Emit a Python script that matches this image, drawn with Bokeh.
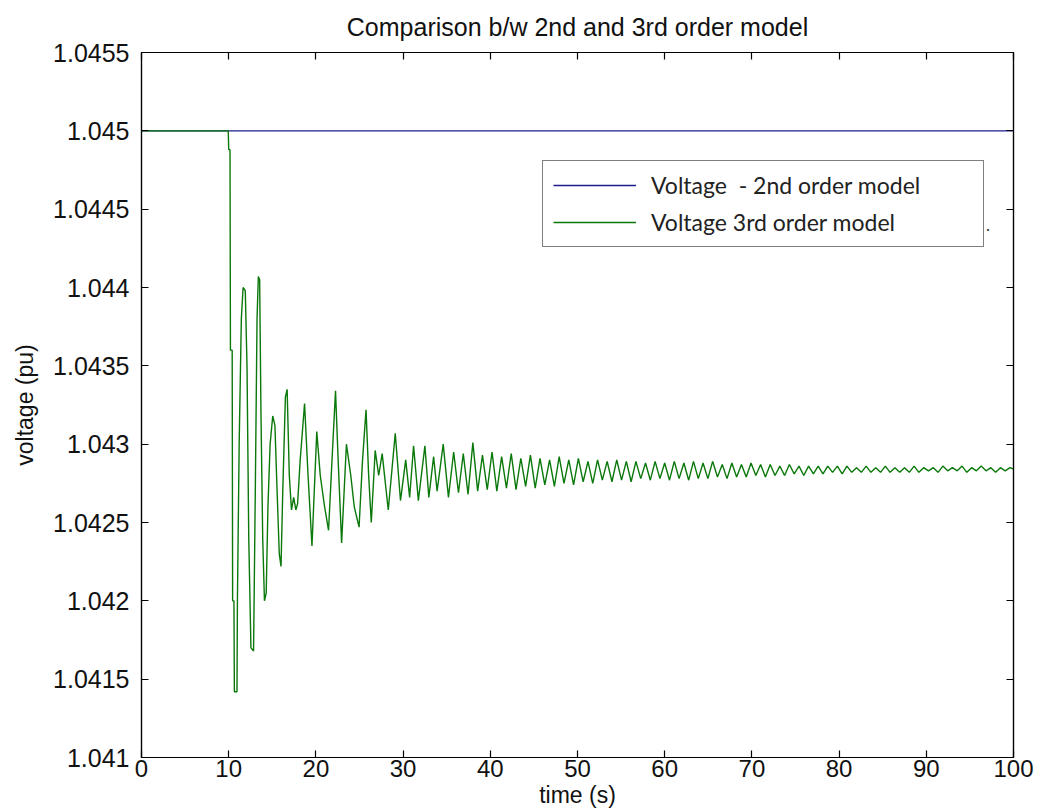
from bokeh.plotting import figure
from bokeh.models import (FixedTicker, PrintfTickFormatter, LinearAxis, Legend,
                          LegendItem, Range1d, Label)
from bokeh.embed import file_html
from bokeh.resources import INLINE

# ---------------- data ----------------
title_text = "Comparison b/w 2nd and 3rd order model"
x_label = "time (s)"
y_label = "voltage (pu)"
label_2nd = "Voltage  - 2nd order model"
label_3rd = "Voltage 3rd order model"

x_ticks = [0, 10, 20, 30, 40, 50, 60, 70, 80, 90, 100]
y_ticks = [1.041, 1.0415, 1.042, 1.0425, 1.043, 1.0435, 1.044, 1.0445, 1.045, 1.0455]

# 2nd order model: flat
t_2nd = [0, 100]
v_2nd = [1.045, 1.045]

# 3rd order model: points (turning points of the trace)
t_3rd = [0, 9.95, 10.0, 10.15, 10.2, 10.4, 10.45, 10.6, 10.65, 10.95,
         11.0, 11.2, 11.45, 11.65, 11.9, 12.1, 12.3, 12.55, 12.85, 13.05,
         13.25, 13.4, 13.55, 13.7, 13.9, 14.1, 14.3, 14.5, 14.75, 15.05,
         15.3, 15.55, 15.8, 16.0, 16.2, 16.5, 16.7, 16.95, 17.2, 17.45,
         17.7, 17.9, 18.2, 18.7, 19.1, 19.55, 20.1, 20.5, 21.0, 21.45,
         21.85, 22.25, 22.55, 22.95, 23.5, 24.0, 24.4, 24.95, 25.35, 25.75,
         26.05, 26.35, 26.8, 27.2, 27.6, 28.3, 29.1, 29.7, 30.3, 30.75,
         31.2, 31.75, 32.5, 32.95, 33.5, 33.9, 34.6, 35.2, 35.8,
         36.35, 36.9, 37.45, 38.0, 38.55, 39.1, 39.65, 40.2, 40.75, 41.3,
         41.85, 42.4, 42.95, 43.5, 44.05, 44.6, 45.15, 45.7, 46.25, 46.8,
         47.35, 47.9, 48.45, 49.0, 49.55, 50.1, 50.65, 51.2, 51.75, 52.3,
         52.85, 53.4, 53.95, 54.5, 55.05, 55.6, 56.15, 56.7, 57.25, 57.8,
         58.35, 58.9, 59.45, 60.0, 60.55, 61.1, 61.65, 62.2, 62.75, 63.3,
         63.85, 64.4, 64.95, 65.5, 66.05, 66.6, 67.15, 67.7, 68.25, 68.8,
         69.35, 69.9, 70.45, 71.0, 71.55, 72.1, 72.65, 73.2, 73.75, 74.3,
         74.85, 75.4, 75.95, 76.5, 77.05, 77.6, 78.15, 78.7, 79.25, 79.8,
         80.35, 80.9, 81.45, 82.0, 82.55, 83.1, 83.65, 84.2, 84.75, 85.3,
         85.85, 86.4, 86.95, 87.5, 88.05, 88.6, 89.15, 89.7, 90.25, 90.8,
         91.35, 91.9, 92.45, 93.0, 93.55, 94.1, 94.65, 95.2, 95.75, 96.3,
         96.85, 97.4, 97.95, 98.5, 99.05, 99.6, 100.0]
v_3rd = [1.045, 1.045, 1.04488, 1.04488, 1.0436, 1.0436, 1.0420, 1.0420, 1.04142, 1.04142,
         1.0420, 1.0430, 1.0438, 1.04400, 1.04398, 1.0435, 1.0424, 1.04170, 1.04168, 1.0427,
         1.0438, 1.04407, 1.04405, 1.0432, 1.0424, 1.04200, 1.04205, 1.0426, 1.0430, 1.04318,
         1.04312, 1.0427, 1.0423, 1.04222, 1.0427, 1.04330, 1.04335, 1.0428, 1.04258, 1.04266,
         1.04258, 1.04262, 1.0429, 1.04326, 1.0428, 1.04235, 1.04308, 1.0428, 1.0426, 1.04245,
         1.0429, 1.04334, 1.0429, 1.04237, 1.04300, 1.0428, 1.0426, 1.04247, 1.0429, 1.04322,
         1.0428, 1.04250, 1.04296, 1.0428, 1.04294, 1.04258, 1.04307, 1.04264, 1.0429, 1.04266,
         1.04299, 1.04264, 1.04299, 1.04266, 1.04292, 1.0427, 1.04300, 1.04266, 1.04295,
         1.04269, 1.04294, 1.04268, 1.04301, 1.04270, 1.04293, 1.04271, 1.04295, 1.04270, 1.04292,
         1.04272, 1.04294, 1.04271, 1.04291, 1.04273, 1.04293, 1.04272, 1.04291, 1.04274, 1.04290,
         1.04273, 1.04292, 1.04275, 1.04290, 1.04274, 1.04291, 1.04276, 1.04289, 1.04275, 1.04290,
         1.04277, 1.04289, 1.04276, 1.04290, 1.04277, 1.04289, 1.04276, 1.04289, 1.04278, 1.04288,
         1.04277, 1.04289, 1.04278, 1.04288, 1.04277, 1.04289, 1.04278, 1.04288, 1.04277, 1.04289,
         1.04278, 1.04288, 1.04278, 1.04289, 1.04279, 1.04287, 1.04278, 1.04288, 1.04279, 1.04287,
         1.04279, 1.04288, 1.04280, 1.04287, 1.04279, 1.04287, 1.04280, 1.04286, 1.04280, 1.04287,
         1.04281, 1.04286, 1.04280, 1.04286, 1.04281, 1.04286, 1.04281, 1.04286, 1.04282, 1.04286,
         1.04281, 1.04286, 1.04282, 1.04285, 1.04282, 1.04286, 1.04282, 1.04285, 1.04282, 1.04286,
         1.04282, 1.04285, 1.04282, 1.04285, 1.04282, 1.04286, 1.04282, 1.04285, 1.04283, 1.04285,
         1.04282, 1.04286, 1.04283, 1.04285, 1.04283, 1.04286, 1.04282, 1.04285, 1.04283, 1.04286,
         1.04283, 1.04285, 1.04282, 1.04285, 1.04283, 1.04285, 1.04284]

# ---------------- figure ----------------
FONT = "'Liberation Sans', Arial, sans-serif"

p = figure(width=1041, height=812, output_backend="svg", toolbar_location=None,
           x_range=Range1d(0, 100), y_range=Range1d(1.041, 1.0455),
           min_border_left=141, min_border_right=28, min_border_top=52,
           min_border_bottom=55, background_fill_color="white",
           border_fill_color="white")

p.title.text = title_text
p.title.align = "center"
p.title.vertical_align = "top"
p.title.text_font = FONT
p.title.text_font_size = "25px"
p.title.text_font_style = "normal"
p.title.text_color = "#111111"
p.title.standoff = 20

p.grid.visible = False
p.outline_line_color = "black"
p.outline_line_width = 1.2

def style_axis(ax, show_labels=True):
    ax.major_tick_in = 7
    ax.major_tick_out = 0
    ax.minor_tick_line_color = None
    ax.axis_line_color = "black"
    ax.axis_line_width = 1.2
    ax.major_tick_line_color = "black"
    ax.major_tick_line_width = 1.2
    ax.major_label_text_font = FONT
    ax.major_label_text_font_size = "24px"
    ax.major_label_text_color = "#111111"
    ax.axis_label_text_font = FONT
    ax.axis_label_text_font_size = "23px"
    ax.axis_label_text_font_style = "normal"
    ax.axis_label_text_color = "#111111"
    if not show_labels:
        ax.major_label_text_color = None
        ax.major_label_text_font_size = "1px"
        ax.major_label_standoff = 0

xax = p.xaxis[0]
yax = p.yaxis[0]
xax.ticker = FixedTicker(ticks=x_ticks)
yax.ticker = FixedTicker(ticks=y_ticks)
yax.formatter = PrintfTickFormatter(format="%g")
xax.axis_label = x_label
yax.axis_label = y_label
style_axis(xax)
style_axis(yax)
yax.major_label_text_font_size = "25px"
xax.major_label_standoff = 2
xax.axis_label_standoff = 2
yax.major_label_standoff = 12
yax.axis_label_standoff = 12

top_ax = LinearAxis(ticker=FixedTicker(ticks=x_ticks))
right_ax = LinearAxis(ticker=FixedTicker(ticks=y_ticks))
style_axis(top_ax, show_labels=False)
style_axis(right_ax, show_labels=False)
p.add_layout(top_ax, "above")
p.add_layout(right_ax, "right")

r2 = p.line(t_2nd, v_2nd, line_color="#1c1c8c", line_width=1.3)
r3 = p.line(t_3rd, v_3rd, line_color="#0a780a", line_width=1.4)

legend = Legend(items=[LegendItem(label=label_2nd, renderers=[r2]),
                       LegendItem(label=label_3rd, renderers=[r3])],
                location=(401, 510), orientation="vertical")
legend.label_text_font = "Lato"
legend.label_text_font_size = "23px"
legend.label_text_color = "#222222"
legend.glyph_width = 83
legend.glyph_height = 28
legend.label_height = 28
legend.label_width = 322
legend.label_standoff = 15
legend.spacing = 9
legend.padding = 10
legend.margin = 0
legend.border_line_color = "black"
legend.border_line_width = 1.5
legend.background_fill_color = "white"
legend.background_fill_alpha = 1.0
p.add_layout(legend)

p.add_layout(Label(x=96.8, y=1.04436, text=".", text_font_size="18px",
                   text_color="#333333"))

open("out.html", "w").write(file_html(p, INLINE))
